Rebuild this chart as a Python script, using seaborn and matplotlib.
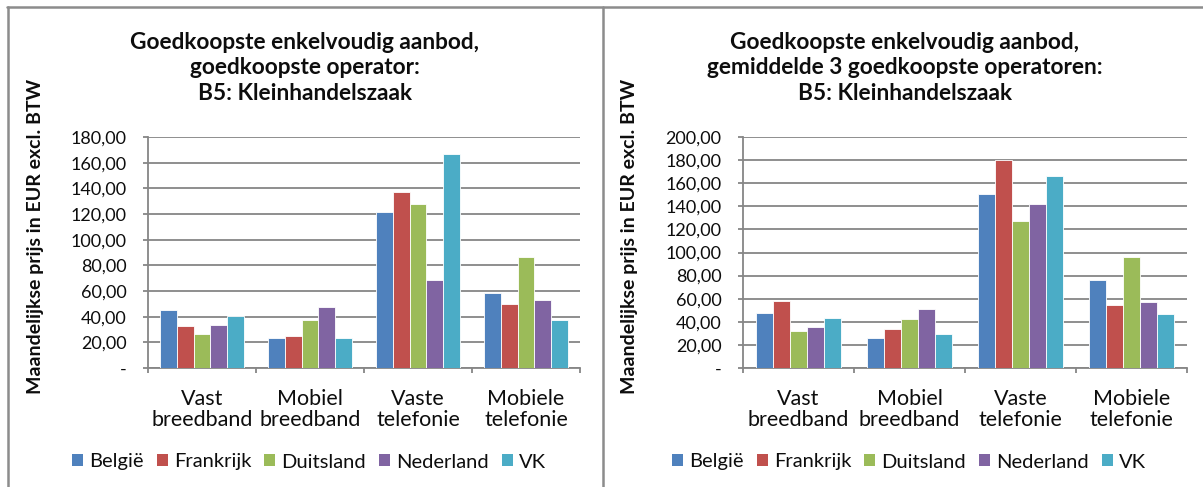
import numpy as np
import pandas as pd
import seaborn as sns
import matplotlib.pyplot as plt
from matplotlib.patches import Patch
from matplotlib.ticker import FuncFormatter, FixedLocator

# ------------------- Data -------------------
categories = ["Vast\nbreedband", "Mobiel\nbreedband", "Vaste\ntelefonie", "Mobiele\ntelefonie"]
countries = ["België", "Frankrijk", "Duitsland", "Nederland", "VK"]
colors = ["#4F81BD", "#C0504D", "#9BBB59", "#8064A2", "#4BACC6"]

# left: cheapest operator (per category: België, Frankrijk, Duitsland, Nederland, VK)
left_belgie = [45.1, 23.6, 121.9, 58.1]
left_frankrijk = [32.9, 24.9, 137.4, 49.5]
left_duitsland = [26.5, 37.3, 127.6, 86.4]
left_nederland = [33.5, 47.5, 68.5, 52.9]
left_vk = [40.7, 23.1, 166.5, 37.3]

# right: average of 3 cheapest operators
right_belgie = [47.6, 26.2, 150.4, 76.1]
right_frankrijk = [58.2, 33.4, 180.1, 54.8]
right_duitsland = [31.7, 42.7, 127.7, 95.7]
right_nederland = [35.2, 51.0, 142.4, 57.3]
right_vk = [42.9, 29.1, 166.3, 47.0]

title_left = "Goedkoopste enkelvoudig aanbod,\ngoedkoopste operator:\nB5: Kleinhandelszaak"
title_right = "Goedkoopste enkelvoudig aanbod,\ngemiddelde 3 goedkoopste operatoren:\nB5: Kleinhandelszaak"
ylabel = "Maandelijkse prijs in EUR excl. BTW"


def to_long(series):
    rows = []
    for land, vals in zip(countries, series):
        for cat, v in zip(categories, vals):
            rows.append({"categorie": cat, "land": land, "prijs": v})
    return pd.DataFrame(rows)


df_left = to_long([left_belgie, left_frankrijk, left_duitsland, left_nederland, left_vk])
df_right = to_long([right_belgie, right_frankrijk, right_duitsland, right_nederland, right_vk])

sns.set_theme(style="white")
plt.rcParams["font.family"] = ["Lato", "DejaVu Sans"]

fig = plt.figure(figsize=(12.03, 4.87), dpi=100)
W, H = 1203, 487
grid_col = "#868686"
txt = "#0d0d0d"


def fmt(v, pos):
    if abs(v) < 1e-9:
        return "-"
    return f"{v:.2f}".replace(".", ",")


def draw(df, rect, ymax, title, title_x, ylab_x, legend_x):
    ax = fig.add_axes(rect)
    sns.barplot(data=df, x="categorie", y="prijs", hue="land", palette=colors,
                hue_order=countries, order=categories, width=0.77, saturation=1,
                edgecolor="white", linewidth=0.6, ax=ax, zorder=3)
    ax.get_legend().remove()
    ax.set_xlim(-0.5, 3.5)
    ax.set_ylim(0, ymax)
    ax.set_yticks(np.arange(0, ymax + 1, 20))
    ax.yaxis.set_major_formatter(FuncFormatter(fmt))
    ax.yaxis.grid(True, color=grid_col, linewidth=1.3)
    ax.set_axisbelow(True)
    for s in ["top", "right"]:
        ax.spines[s].set_visible(False)
    for s in ["left", "bottom"]:
        ax.spines[s].set_color(grid_col)
        ax.spines[s].set_linewidth(1.3)
    ax.tick_params(axis="y", length=3.6, width=1.3, color=grid_col, left=True,
                   labelsize=13, pad=12, labelcolor=txt)
    ax.tick_params(axis="x", which="major", length=0, labelsize=15.5, pad=15,
                   labelcolor=txt)
    ax.xaxis.set_minor_locator(FixedLocator([-0.5, 0.5, 1.5, 2.5, 3.5]))
    ax.tick_params(axis="x", which="minor", length=3.6, width=1.3, color=grid_col, bottom=True)
    for lbl in ax.get_xticklabels():
        lbl.set_linespacing(1.1)
    ax.set_xlabel("")
    ax.set_ylabel("")

    fig.text(title_x / W, 1 - 68 / H, title, ha="center", va="center",
             fontsize=16.3, fontweight="bold", linespacing=1.25, color=txt)
    fig.text(ylab_x / W, 1 - 236 / H, ylabel, rotation=90, ha="center", va="center",
             fontsize=14, fontweight="bold", color=txt)

    handles = [Patch(facecolor=c, edgecolor="none") for c in colors]
    fig.legend(handles, countries, loc="center", bbox_to_anchor=(legend_x / W, 1 - 462 / H),
               ncol=5, frameon=False, fontsize=14.5, handlelength=0.55, handleheight=0.55,
               handletextpad=0.3, columnspacing=0.65, labelcolor=txt)
    return ax


draw(df_left, [148 / W, 1 - 368 / H, 432 / W, 231 / H], 180, title_left, 305, 36, 309)
draw(df_right, [743 / W, 1 - 368 / H, 444 / W, 231 / H], 200, title_right, 905, 629, 909)

# panel frames
border = "#8C8C8C"
fig.add_artist(plt.Line2D([7 / W, 1], [1 - 7 / H, 1 - 7 / H], color=border, linewidth=1.8))
fig.add_artist(plt.Line2D([8 / W, 8 / W], [0, 1 - 7 / H], color=border, linewidth=1.8))
fig.add_artist(plt.Line2D([602.5 / W, 602.5 / W], [0, 1 - 7 / H], color=border, linewidth=1.8))

fig.savefig("out.png", dpi=100)
